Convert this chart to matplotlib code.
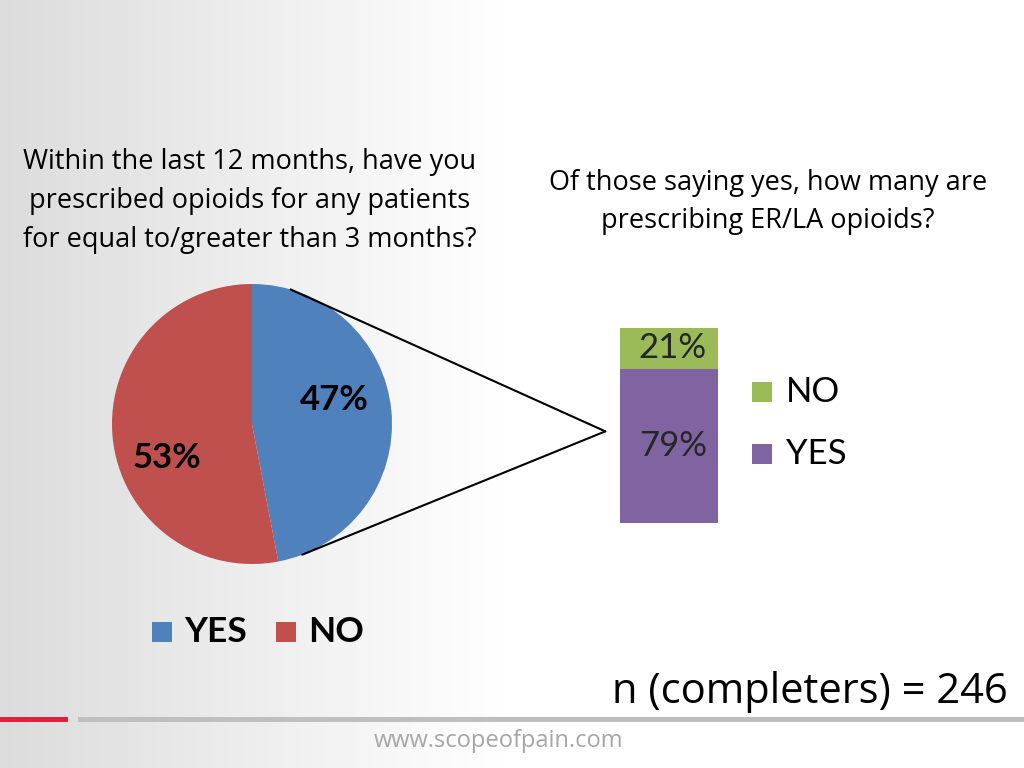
import numpy as np
import matplotlib
matplotlib.use('Agg')
import matplotlib.pyplot as plt
from matplotlib.patches import ConnectionPatch, Rectangle

# data
pie_labels = ['YES', 'NO']
pie_values = [47, 53]
pie_colors = ['#4f81bd', '#c0504d']

bar_labels = ['YES', 'NO']
bar_values = [79, 21]
bar_colors = ['#8064a2', '#9bbb59']

title_left = 'Within the last 12 months, have you\nprescribed opioids for any patients\nfor equal to/greater than 3 months?'
title_right = 'Of those saying yes, how many are\nprescribing ER/LA opioids?'
n_text = 'n (completers) = 246'
site = 'www.scopeofpain.com'

fig = plt.figure(figsize=(10.24, 7.68), dpi=100)

# background gradient
bg = fig.add_axes([0, 0, 1, 1])
grad = np.clip(np.linspace(0, 1, 512) / 0.5, 0, 1)
grad = 0.86 + 0.14 * grad
bg.imshow(np.tile(grad, (2, 1)), cmap='gray', vmin=0, vmax=1, aspect='auto',
          extent=[0, 1, 0, 1])
bg.set_xlim(0, 1)
bg.set_ylim(0, 1)
bg.axis('off')

# footer lines
bg.add_patch(Rectangle((0, 1 - 722 / 768), 68 / 1024, 5 / 768, color='#e0203c', lw=0))
bg.add_patch(Rectangle((78 / 1024, 1 - 722 / 768), 1 - 78 / 1024, 5 / 768, color='#bfbfbf', lw=0))
bg.text(498 / 1024, 1 - 741 / 768, site, ha='center', va='center',
        fontsize=17, color='#a6a6a6', family='Open Sans')
bg.text(1008 / 1024, 1 - 692 / 768, n_text, ha='right', va='center',
        fontsize=30, color='black', family='Open Sans')

bg.text(250 / 1024, 1 - 201 / 768, title_left, ha='center', va='center',
        fontsize=19.5, color='black', family='Open Sans', linespacing=1.5)
bg.text(768 / 1024, 1 - 202 / 768, title_right, ha='center', va='center',
        fontsize=19.5, color='black', family='Open Sans', linespacing=1.5)

# pie
ax1 = fig.add_axes([112 / 1024, 1 - 564 / 768, 280 / 1024, 280 / 768])
wedges, _ = ax1.pie(pie_values, colors=pie_colors, startangle=90, counterclock=False,
                    radius=1)
ax1.set_xlim(-1, 1)
ax1.set_ylim(-1, 1)
ax1.set_aspect('equal')
pie_text_pos = [(0.59, 0.17), (-0.61, -0.24)]
for v, (x, y) in zip(pie_values, pie_text_pos):
    ax1.text(x, y, f'{v}%', ha='center', va='center', fontsize=25,
             fontweight='bold', family='Lato', color='black')

# bar
ax2 = fig.add_axes([620 / 1024, 1 - 523 / 768, 98 / 1024, 195 / 768])
bottom = 0
bar_text_y = []
for v, c in zip(bar_values, bar_colors):
    ax2.bar(0, v, bottom=bottom, width=0.8, color=c, lw=0)
    bar_text_y.append(bottom + v / 2)
    bottom += v
ax2.set_xlim(-0.4, 0.4)
ax2.set_ylim(0, 100)
ax2.axis('off')
for v, y in zip(bar_values, bar_text_y):
    ax2.text(0.03, y, f'{v}%', ha='center', va='center', fontsize=25,
             family='Lato', color='#262626')

# connectors
for ang in [74, -69]:
    r = np.deg2rad(ang)
    con = ConnectionPatch(xyA=(np.cos(r), np.sin(r)), coordsA=ax1.transData,
                          xyB=(-0.15, 0.47), coordsB=ax2.transAxes,
                          color='black', lw=1.5)
    fig.add_artist(con)

# bar legend
for lab, c, yp in [('NO', bar_colors[1], 392), ('YES', bar_colors[0], 454)]:
    bg.add_patch(Rectangle((752 / 1024, 1 - (yp + 10) / 768), 20 / 1024, 20 / 768, color=c, lw=0))
    bg.text(786 / 1024, 1 - yp / 768, lab, ha='left', va='center', fontsize=25,
            family='Lato', color='black')

# pie legend
for lab, c, xp in [('YES', pie_colors[0], 152), ('NO', pie_colors[1], 276)]:
    bg.add_patch(Rectangle((xp / 1024, 1 - 642 / 768), 20 / 1024, 20 / 768, color=c, lw=0))
    bg.text((xp + 32) / 1024, 1 - 632 / 768, lab, ha='left', va='center', fontsize=25.5,
            fontweight='bold', family='Lato', color='black')

fig.savefig('out.png', dpi=100)
